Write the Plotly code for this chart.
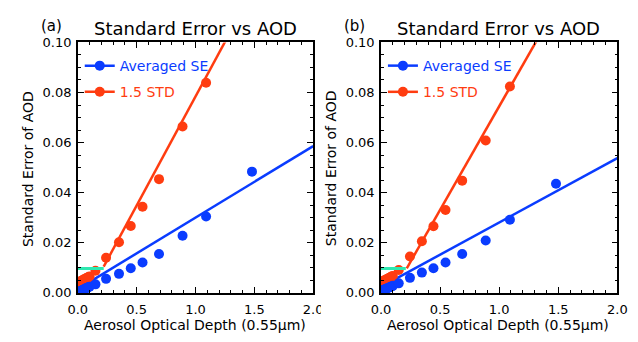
import plotly.graph_objects as go

# AOD bin centres and the averaged standard error / 1.5*STD per bin
aod_a = [0.01, 0.02, 0.03, 0.04, 0.05, 0.06, 0.07, 0.08, 0.09, 0.10,
         0.15, 0.24, 0.35, 0.45, 0.55, 0.69, 0.89, 1.09, 1.48]
se_a = [0.0004, 0.0007, 0.0009, 0.0012, 0.0014, 0.0016, 0.0019, 0.0021, 0.0023, 0.0025,
        0.0034, 0.0056, 0.0076, 0.0098, 0.0121, 0.0155, 0.0228, 0.0305, 0.0484]
std_aod_a = aod_a[:18]
std_a = [0.0043, 0.0045, 0.0048, 0.0050, 0.0053, 0.0055, 0.0058, 0.0060, 0.0063, 0.0065,
         0.0088, 0.0140, 0.0202, 0.0267, 0.0344, 0.0454, 0.0664, 0.0839]

aod_b = [0.01, 0.02, 0.03, 0.04, 0.05, 0.06, 0.07, 0.08, 0.09, 0.10,
         0.15, 0.245, 0.346, 0.444, 0.546, 0.687, 0.886, 1.091, 1.481]
se_b = [0.0010, 0.0012, 0.0014, 0.0016, 0.0018, 0.0020, 0.0022, 0.0024, 0.0026, 0.0028,
        0.0038, 0.0060, 0.0081, 0.0098, 0.0121, 0.0155, 0.0209, 0.0292, 0.0436]
std_aod_b = aod_b[:18]
std_b = [0.0045, 0.0047, 0.0050, 0.0052, 0.0055, 0.0057, 0.0060, 0.0062, 0.0065, 0.0067,
         0.0091, 0.0145, 0.0206, 0.0266, 0.0331, 0.0448, 0.0608, 0.0824]

# linear fits (end points) and the low-AOD floor
se_fit_x_a, se_fit_y_a = [0.0, 2.0], [0.0015, 0.0586]
std_fit_x_a, std_fit_y_a = [0.22, 1.30], [0.0105, 0.1045]
floor_x_a, floor_y_a = [0.0, 0.22], [0.0097, 0.0097]

se_fit_x_b, se_fit_y_b = [0.0, 2.0], [0.0024, 0.0538]
std_fit_x_b, std_fit_y_b = [0.218, 1.35], [0.0098, 0.1034]
floor_x_b, floor_y_b = [0.0, 0.21], [0.0097, 0.0097]

x_ticks = [0.0, 0.5, 1.0, 1.5, 2.0]
y_ticks = [0.00, 0.02, 0.04, 0.06, 0.08, 0.10]

BLUE = "#0a3cff"
RED = "#ff3c10"
GREEN = "#2ee8b0"
FONT = "DejaVu Sans"
W, H = 638, 342

panels = [
    dict(tag="(a)", xa="x", ya="y", leg="legend",
         aod=aod_a, se=se_a, saod=std_aod_a, std=std_a,
         sfx=se_fit_x_a, sfy=se_fit_y_a, tfx=std_fit_x_a, tfy=std_fit_y_a,
         fx=floor_x_a, fy=floor_y_a, left=70, right=313),
    dict(tag="(b)", xa="x2", ya="y2", leg="legend2",
         aod=aod_b, se=se_b, saod=std_aod_b, std=std_b,
         sfx=se_fit_x_b, sfy=se_fit_y_b, tfx=std_fit_x_b, tfy=std_fit_y_b,
         fx=floor_x_b, fy=floor_y_b, left=383, right=627),
]
top, bottom = 37, 299

fig = go.Figure()
annotations = []
for p in panels:
    common = dict(xaxis=p["xa"], yaxis=p["ya"])
    # fitted lines
    fig.add_trace(go.Scatter(x=p["sfx"], y=p["sfy"], mode="lines",
                             line=dict(color=BLUE, width=2.5), showlegend=False, **common))
    fig.add_trace(go.Scatter(x=p["tfx"], y=p["tfy"], mode="lines",
                             line=dict(color=RED, width=2.5), showlegend=False, **common))
    # binned values
    fig.add_trace(go.Scatter(x=p["saod"], y=p["std"], mode="markers",
                             marker=dict(color=RED, size=10),
                             showlegend=False, **common))
    fig.add_trace(go.Scatter(x=p["aod"], y=p["se"], mode="markers",
                             marker=dict(color=BLUE, size=10),
                             showlegend=False, **common))
    # low-AOD floor, drawn over the markers
    fig.add_trace(go.Scatter(x=p["fx"], y=p["fy"], mode="lines",
                             line=dict(color=GREEN, width=3), showlegend=False, **common))
    # legend entries (line with a dot)
    for rank, (name, col) in enumerate([("Averaged SE", BLUE), ("1.5 STD", RED)]):
        fig.add_trace(go.Scatter(x=[None], y=[None], mode="markers+lines",
                                 line=dict(color=col, width=2.5), marker=dict(color=col, size=10),
                                 name=f"<span style='color:{col}'>{name}</span>",
                                 legend=p["leg"], legendgroup=p["tag"] + name, legendrank=rank + 1,
                                 **common))

    cx = (p["left"] + p["right"]) / 2
    annotations += [
        dict(text="Standard Error vs AOD", x=(cx - 0.5) / W, y=1 - 22.5 / H, xref="paper", yref="paper",
             showarrow=False, font=dict(size=18, family=FONT, color="black"), xanchor="center", yanchor="middle"),
        dict(text=p["tag"], x=(p["left"] - 27) / W, y=1 - 19.5 / H, xref="paper", yref="paper",
             showarrow=False, font=dict(size=15, family=FONT, color="black"), xanchor="center", yanchor="middle"),
        dict(text="Standard Error of AOD", x=(p["left"] - 52) / W, y=1 - 169 / H, xref="paper", yref="paper",
             textangle=-90, showarrow=False, font=dict(size=14, family=FONT, color="black"),
             xanchor="center", yanchor="middle"),
        dict(text="Aerosol Optical Depth (0.55μm)", x=(cx - 1) / W, y=1 - 333 / H, xref="paper", yref="paper",
             showarrow=False, font=dict(size=14, family=FONT, color="black"), xanchor="center", yanchor="middle"),
    ]

axis_common = dict(showline=True, linecolor="black", linewidth=1.5, mirror="ticks",
                   ticks="inside", ticklen=6, tickwidth=1, tickcolor="black",
                   showgrid=False, zeroline=False,
                   tickfont=dict(size=13, family=FONT, color="black"))

layout = dict(width=W, height=H, margin=dict(l=0, r=0, t=0, b=0),
              paper_bgcolor="white", plot_bgcolor="white", showlegend=True,
              annotations=annotations)
for i, p in enumerate(panels):
    sx = "" if i == 0 else "2"
    layout["xaxis" + sx] = dict(domain=[p["left"] / W, p["right"] / W], range=[0, 2],
                                tickvals=x_ticks, tickformat=".1f", anchor="y" + sx,
                                ticklabelstandoff=4,
                                minor=dict(dtick=0.1, ticklen=3, ticks="inside", tickcolor="black"),
                                **axis_common)
    layout["yaxis" + sx] = dict(domain=[1 - bottom / H, 1 - top / H], range=[0, 0.1],
                                tickvals=y_ticks, tickformat=".2f", anchor="x" + sx,
                                ticklabelstandoff=2,
                                minor=dict(dtick=0.005, ticklen=3, ticks="inside", tickcolor="black"),
                                **axis_common)
    layout["legend" if i == 0 else "legend2"] = dict(
        x=(p["left"] + 2) / W, y=1 - 45 / H, xanchor="left", yanchor="top",
        bgcolor="rgba(0,0,0,0)", borderwidth=0, traceorder="grouped", tracegroupgap=5,
        font=dict(size=14, family=FONT), itemwidth=30)

fig.update_layout(**layout)

# the left panel's last x label is cut where the right panel begins
fig.add_shape(type="rect", xref="paper", yref="paper", x0=321 / W, x1=330 / W,
              y0=1 - 325 / H, y1=1 - 302 / H, fillcolor="white", line=dict(width=0), layer="above")

fig.write_html("out.html")
